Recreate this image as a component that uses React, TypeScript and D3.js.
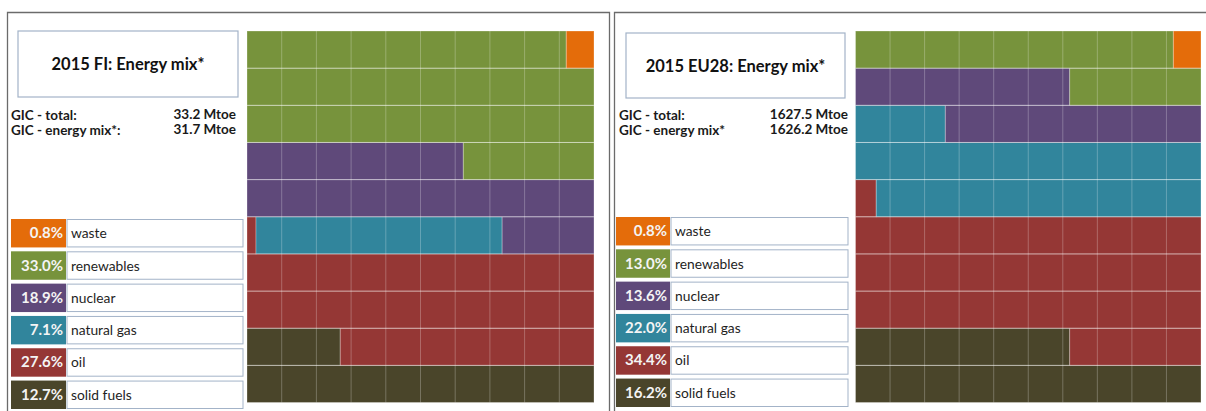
import React from 'react';
import * as d3 from 'd3';

// stacking order: bottom-left of the waffle first
const categories = ['solid fuels', 'oil', 'natural gas', 'nuclear', 'renewables', 'waste'];
const colors = ['#4A452A', '#953735', '#31859C', '#5F497A', '#77933C', '#E46C0A'];
const fiValues = [12.7, 27.6, 7.1, 18.9, 33.0, 0.8];
const euValues = [16.2, 34.4, 22.0, 13.6, 13.0, 0.8];
const fiTitle = '2015 FI: Energy mix*';
const euTitle = '2015 EU28: Energy mix*';
const fiGic = ['33.2 Mtoe', '31.7 Mtoe'];
const euGic = ['1627.5 Mtoe', '1626.2 Mtoe'];
const gicLabels = ['GIC - total:', 'GIC - energy mix*:'];
const euGicLabels = ['GIC - total:', 'GIC - energy mix*'];

const FONT = 'Lato, "Open Sans", sans-serif';
const BOX_STROKE = '#a3b3c8';

type Layout = {
  left: number; right: number;
  title: [number, number, number, number];
  gicX: number; gicRight: number;
  legX: number; legSplit: number; legRight: number; legTop: number;
  gridX0: number; gridX1: number;
};

function Waffle({ values, x0, x1, y0, y1 }: { values: number[]; x0: number; x1: number; y0: number; y1: number }) {
  const total = d3.sum(values);
  const x = d3.scaleLinear().domain([0, 10]).range([x0, x1]);
  const y = d3.scaleLinear().domain([0, 10]).range([y1, y0]);
  const cum = d3.cumsum(values.map((v) => (v / total) * 100));
  const segs: { key: string; c: string; a: number; b: number; row: number }[] = [];
  values.forEach((_, i) => {
    const start = i === 0 ? 0 : cum[i - 1];
    const end = cum[i];
    let s = start;
    while (s < end - 1e-9) {
      const row = Math.floor(s / 10 + 1e-9);
      const e = Math.min(end, (row + 1) * 10);
      segs.push({ key: `${i}-${row}`, c: colors[i], a: s - row * 10, b: e - row * 10, row });
      s = e;
    }
  });
  const ticks = d3.range(1, 10);
  return (
    <g>
      {segs.map((d) => (
        <rect key={d.key} x={x(d.a)} y={y(d.row + 1)} width={x(d.b) - x(d.a)} height={y(d.row) - y(d.row + 1)}
          fill={d.c} stroke="rgba(255,255,255,0.28)" strokeWidth={1} />
      ))}
      {ticks.map((t) => (
        <line key={'v' + t} x1={x(t)} x2={x(t)} y1={y0} y2={y1} stroke="rgba(255,255,255,0.25)" strokeWidth={1} />
      ))}
      {ticks.map((t) => (
        <line key={'h' + t} x1={x0} x2={x1} y1={y(t)} y2={y(t)} stroke="rgba(255,255,255,0.25)" strokeWidth={1} />
      ))}
    </g>
  );
}

function Panel({ values, title, gic, labels, L }: { values: number[]; title: string; gic: string[]; labels: string[]; L: Layout }) {
  const [tx, ty, tw, th] = L.title;
  const legend = categories.map((c, i) => ({ c, v: values[i], col: colors[i] })).reverse();
  const rowY = d3.scaleBand<number>().domain(d3.range(legend.length)).range([L.legTop, L.legTop + 190]).paddingInner(0.12);
  return (
    <g fontFamily={FONT}>
      <path d={`M${L.left},420V12.5H${L.right}${L.right < 1206 ? 'V420' : ''}`} fill="none" stroke="#6b6b6b" strokeWidth={1.3} />
      <rect x={tx} y={ty} width={tw} height={th} fill="#fff" stroke={BOX_STROKE} strokeWidth={1.2} />
      <text x={tx + tw / 2} y={ty + th / 2 + 6} textAnchor="middle" fontSize={16.5} fontWeight={700} fill="#111">{title}</text>
      {labels.map((lab, i) => (
        <g key={lab} fontSize={13.5} fontWeight={700} fill="#1a1a1a">
          <text x={L.gicX} y={120 + i * 15}>{lab}</text>
          <text x={L.gicRight} y={119 + i * 15} textAnchor="end">{gic[i]}</text>
        </g>
      ))}
      {legend.map((d, i) => {
        const yy = rowY(i) as number;
        const h = rowY.bandwidth();
        return (
          <g key={d.c}>
            <rect x={L.legX} y={yy} width={L.legSplit - L.legX} height={h} fill={d.col} />
            <rect x={L.legSplit + 1} y={yy + 0.5} width={L.legRight - L.legSplit - 1} height={h - 1} fill="#fff" stroke={BOX_STROKE} strokeWidth={1} />
            <text x={L.legSplit - 3} y={yy + h / 2 + 5} textAnchor="end" fontSize={15} fontWeight={700} fill="#f4f4f4">{d.v.toFixed(1)}%</text>
            <text x={L.legSplit + 5} y={yy + h / 2 + 5} fontSize={13.8} fill="#1e1e1e">{d.c}</text>
          </g>
        );
      })}
      <Waffle values={values} x0={L.gridX0} x1={L.gridX1} y0={31} y1={402.5} />
    </g>
  );
}

const fiLayout: Layout = {
  left: 7.5, right: 609.5, title: [18, 31, 220, 66], gicX: 11, gicRight: 236,
  legX: 11, legSplit: 66, legRight: 243, legTop: 219, gridX0: 247, gridX1: 594,
};
const euLayout: Layout = {
  left: 614.5, right: 1210, title: [626, 33, 219, 65], gicX: 619, gicRight: 848,
  legX: 616, legSplit: 670, legRight: 848, legTop: 217, gridX0: 855.5, gridX1: 1201,
};

export default function App() {
  return (
    <svg width={1206} height={411} style={{ position: 'absolute', left: 0, top: 0, background: '#fff' }}>
      <Panel values={fiValues} title={fiTitle} gic={fiGic} labels={gicLabels} L={fiLayout} />
      <Panel values={euValues} title={euTitle} gic={euGic} labels={euGicLabels} L={euLayout} />
    </svg>
  );
}
